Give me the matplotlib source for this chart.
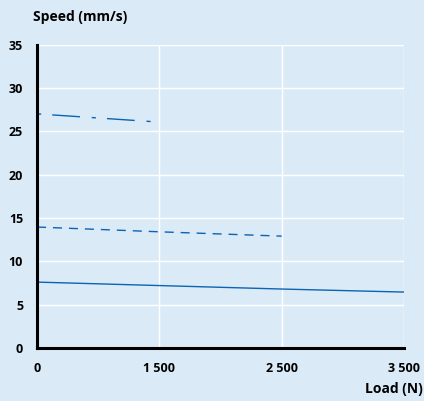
import matplotlib
matplotlib.use("Agg")
import matplotlib.pyplot as plt

# === Dati ===
load_labels = ["0", "1 500", "2 500", "3 500"]
speed_solid = [7.6, 7.2, 6.8, 6.45]
speed_dashed = [13.95, 13.4, 12.9]
speed_dashdot = [27.0, 26.05]

sfondo = "#dbeaf7"
blu = "#0a64b4"

plt.rcParams["font.family"] = ["Open Sans", "DejaVu Sans"]
plt.rcParams["lines.scale_dashes"] = False

fig = plt.figure(figsize=(4.24, 4.01), dpi=100, facecolor=sfondo)
ax = fig.add_axes([37 / 424, 53 / 401, 367 / 424, 303.5 / 401])
ax.set_facecolor(sfondo)

pos = list(range(len(load_labels)))
ax.plot(pos[:len(speed_solid)], speed_solid, color=blu, lw=1.0)
ax.plot(pos[:len(speed_dashed)], speed_dashed, color=blu, lw=1.0,
        dashes=(6.5, 5))
ax.plot(pos[:len(speed_dashdot)], speed_dashdot, color=blu, lw=1.0,
        dashes=(3, 8, 20, 8.5))

ax.set_xlim(0, 3)
ax.set_ylim(0, 35)
ax.set_xticks(pos)
ax.set_xticklabels(load_labels)
ax.set_yticks(range(0, 36, 5))

ax.grid(True, color="white", lw=1.0)
ax.set_axisbelow(True)
for lato in ["top", "right"]:
    ax.spines[lato].set_visible(False)
ax.spines["left"].set_linewidth(2.2)
ax.spines["bottom"].set_linewidth(2.2)
ax.tick_params(axis="x", length=0, pad=10, labelsize=9)
ax.tick_params(axis="y", length=0, pad=10, labelsize=9)
for lab in ax.get_xticklabels() + ax.get_yticklabels():
    lab.set_fontweight("bold")

fig.text(33 / 424, 1 - 17 / 401, "Speed (mm/s)", fontsize=10, fontweight="bold",
         ha="left", va="center")
fig.text(423 / 424, 1 - 389 / 401, "Load (N)", fontsize=10, fontweight="bold",
         ha="right", va="center")

plt.savefig("out.png", dpi=100, facecolor=sfondo)
